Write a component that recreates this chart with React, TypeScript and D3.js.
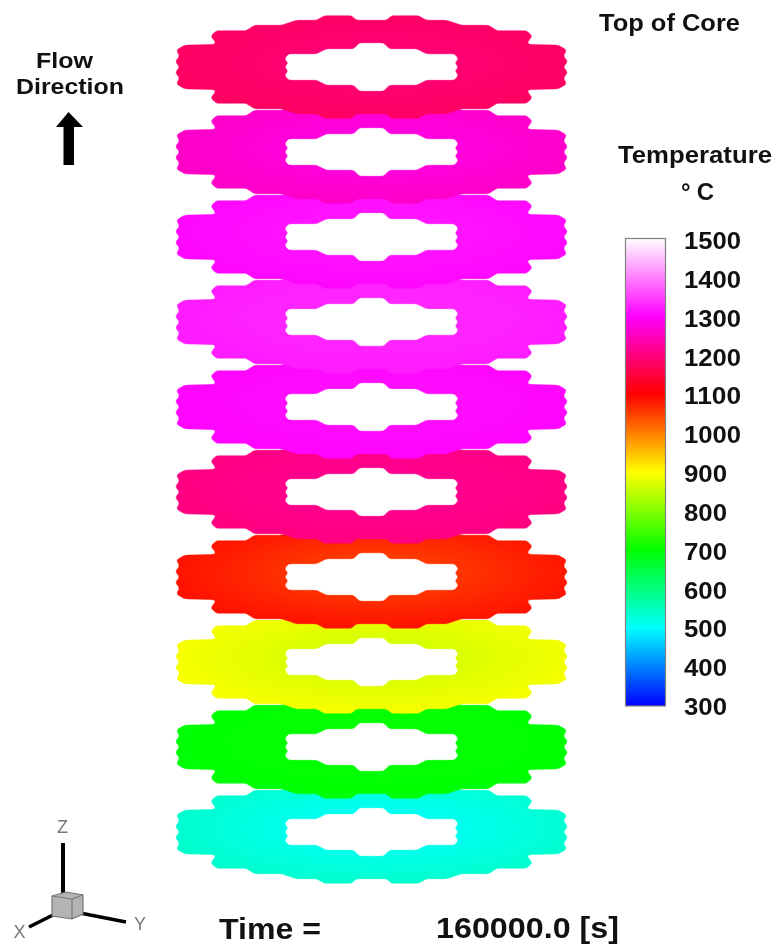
import React from "react";
import * as d3 from "d3";

// axial levels of the core, top to bottom
const levels = ["L10", "L9", "L8", "L7", "L6", "L5", "L4", "L3", "L2", "L1"];
const midTemps = [1190, 1275, 1316, 1330, 1310, 1212, 1055, 868, 702, 510];
const rimTemps = [1176, 1256, 1304, 1320, 1302, 1200, 1088, 895, 696, 540];

const legendTicks = [300, 400, 500, 600, 700, 800, 900, 1000, 1100, 1200, 1300, 1400, 1500];
const colorStops = [300, 500, 700, 900, 1100, 1300, 1500];
const colorValues = ["#0000ff", "#00ffff", "#00ff00", "#ffff00", "#ff0000", "#ff00ff", "#ffffff"];

// one quadrant of the disk cross section, in plan units from the core axis
const outerQuadrant: [number, number][] = [
  [0, -47], [15, -47], [20, -51.5], [47, -51.5], [55, -47], [75, -47], [90, -42], [117, -42],
  [125.5, -36.5], [155, -36.5], [161, -31], [155, -23], [187, -22], [195.5, -17], [192, -11],
  [196.5, -5.5], [192, 0],
];
const innerQuadrant: [number, number][] = [
  [0, -24], [12, -24], [18, -18], [45, -18], [55, -13], [83, -13], [87, -8], [83, -4], [87, 0],
];

const temperatureColor = d3.scaleLinear<string>().domain(colorStops).range(colorValues);

// mirror a quadrant into a full closed ring
function fullRing(q: [number, number][]): [number, number][] {
  const bottomRight = q.slice(0, -1).reverse().map(([x, y]) => [x, -y] as [number, number]);
  const bottomLeft = q.slice(1).map(([x, y]) => [-x, -y] as [number, number]);
  const topLeft = q.slice(1, -1).reverse().map(([x, y]) => [-x, y] as [number, number]);
  return [...q, ...bottomRight, ...bottomLeft, ...topLeft];
}

export default function App() {
  const width = 776;
  const height = 947;
  const font = "'Liberation Sans', Arial, sans-serif";
  const ink = "#111";

  const xPlan = d3.scaleLinear().domain([-200, 200]).range([171.5, 571.5]);
  const yLevel = d3.scalePoint<string>().domain(levels).range([67, 832]);
  const yLegend = d3.scaleLinear().domain([300, 1500]).range([706, 238.5]);
  const yLabel = d3.scaleLinear().domain([300, 1500]).range([715, 249]);

  const ringPath = d3
    .line<[number, number]>()
    .x((d) => xPlan(d[0]))
    .y((d) => d[1])
    .curve(d3.curveLinearClosed);
  const diskPath = ringPath(fullRing(outerQuadrant)) + " " + ringPath(fullRing(innerQuadrant));

  const drawOrder = [...levels].reverse();

  return (
    <svg
      width={width}
      height={height}
      style={{ position: "absolute", left: 0, top: 0, display: "block" }}
      fontFamily={font}
      fontWeight="bold"
    >
      <defs>
        {levels.map((l, i) => (
          <radialGradient key={l} id={"disk-" + l} cx="0.52" cy="0.46" r="0.55">
            <stop offset="0.3" stopColor={temperatureColor(midTemps[i])} />
            <stop offset="1" stopColor={temperatureColor(rimTemps[i])} />
          </radialGradient>
        ))}
        <linearGradient id="legend-ramp" x1="0" x2="0" y1="1" y2="0">
          {colorStops.map((t, i) => (
            <stop key={t} offset={(t - 300) / 1200} stopColor={colorValues[i]} />
          ))}
        </linearGradient>
        {/* blur then steepen alpha: rounds the corners of the outline */}
        <filter id="round" x="-5%" y="-10%" width="110%" height="120%" colorInterpolationFilters="sRGB">
          <feGaussianBlur stdDeviation="1.8" />
          <feComponentTransfer>
            <feFuncA type="linear" slope="3" intercept="-1" />
          </feComponentTransfer>
        </filter>
      </defs>

      {/* Disks, lowest first so upper ones overlap */}
      {drawOrder.map((l) => (
        <path
          key={l}
          d={diskPath}
          transform={`translate(0,${yLevel(l)})`}
          fill={`url(#disk-${l})`}
          fillRule="evenodd"
          filter="url(#round)"
        />
      ))}

      <g style={{ filter: "blur(0.45px)" }}>
        {/* Titles */}
        <text x={599} y={31} fontSize={23} fill={ink} textLength={141} lengthAdjust="spacingAndGlyphs">
          Top of Core
        </text>
        <text x={36} y={68} fontSize={22} fill={ink} textLength={57} lengthAdjust="spacingAndGlyphs">
          Flow
        </text>
        <text x={16} y={94} fontSize={22} fill={ink} textLength={108} lengthAdjust="spacingAndGlyphs">
          Direction
        </text>

        {/* Flow arrow */}
        <path d="M68.5 112 L83 127 L74 127 L74 165 L63.5 165 L63.5 127 L56 127 Z" fill="#000" />

        {/* Legend */}
        <text x={618} y={163} fontSize={23} fill={ink} textLength={154} lengthAdjust="spacingAndGlyphs">
          Temperature
        </text>
        <text x={681} y={200} fontSize={24} fill={ink} textLength={33} lengthAdjust="spacing">
          °C
        </text>
        <rect x={625.5} y={238.5} width={40} height={467.5} fill="url(#legend-ramp)" stroke="#808080" strokeWidth={1.2} />
        {legendTicks.map((t) => (
          <text key={t} x={684} y={yLabel(t)} fontSize={24} fill={ink} textLength={t >= 1000 ? 57 : 43} lengthAdjust="spacingAndGlyphs">
            {t}
          </text>
        ))}

        {/* Axis triad */}
        <line x1={63} y1={843} x2={63} y2={893} stroke="#000" strokeWidth={4} />
        <line x1={53} y1={915} x2={29} y2={927} stroke="#000" strokeWidth={3.5} />
        <line x1={80} y1={913} x2={126} y2={922} stroke="#000" strokeWidth={3.5} />
        <path d="M52 896 L66 892 L83 895 L83 914 L72 919 L52 916 Z" fill="#b4b4b4" stroke="#777" strokeWidth={1.2} />
        <path d="M52 896 L72 899 L83 895 M72 899 L72 919" fill="none" stroke="#777" strokeWidth={1.2} />
        <g fontWeight="normal" fill="#777" fontSize={18}>
          <text x={62.5} y={833} textAnchor="middle">Z</text>
          <text x={19.5} y={938} textAnchor="middle">X</text>
          <text x={140} y={930} textAnchor="middle">Y</text>
        </g>

        {/* Time stamp */}
        <text x={219} y={939} fontSize={29} fill={ink} textLength={102} lengthAdjust="spacingAndGlyphs">
          Time =
        </text>
        <text x={436} y={938} fontSize={29} fill={ink} textLength={183} lengthAdjust="spacingAndGlyphs">
          160000.0 [s]
        </text>
      </g>
    </svg>
  );
}
